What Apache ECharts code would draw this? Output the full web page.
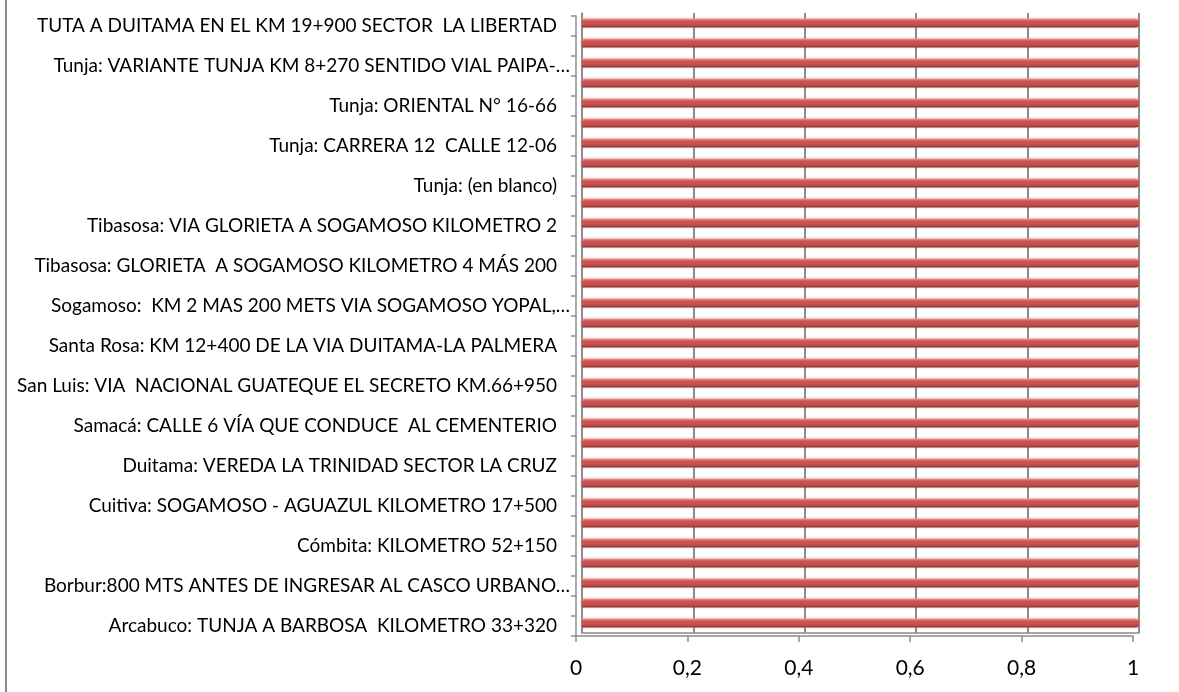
<!DOCTYPE html>
<html>
<head>
<meta charset="utf-8">
<script src="https://cdn.jsdelivr.net/npm/echarts@6/dist/echarts.min.js"></script>
<style>
html, body { margin: 0; padding: 0; background: #fff; }
#main { width: 1179px; height: 692px; }
#edge { position: absolute; left: 5px; top: 0; width: 2px; height: 692px; background: #8c8c8c; }
</style>
</head>
<body>
<div id="edge"></div>
<div id="main"></div>
<script>
// etiquetas visibles (una de cada dos categorias), de arriba hacia abajo
var labels = [
  'TUTA A DUITAMA EN EL KM 19+900 SECTOR  LA LIBERTAD',
  'Tunja: VARIANTE TUNJA KM 8+270 SENTIDO VIAL PAIPA-…',
  'Tunja: ORIENTAL N° 16-66',
  'Tunja: CARRERA 12  CALLE 12-06',
  'Tunja: (en blanco)',
  'Tibasosa: VIA GLORIETA A SOGAMOSO KILOMETRO 2',
  'Tibasosa: GLORIETA  A SOGAMOSO KILOMETRO 4 MÁS 200',
  'Sogamoso:  KM 2 MAS 200 METS VIA SOGAMOSO YOPAL,…',
  'Santa Rosa: KM 12+400 DE LA VIA DUITAMA-LA PALMERA',
  'San Luis: VIA  NACIONAL GUATEQUE EL SECRETO KM.66+950',
  'Samacá: CALLE 6 VÍA QUE CONDUCE  AL CEMENTERIO',
  'Duitama: VEREDA LA TRINIDAD SECTOR LA CRUZ',
  'Cuitiva: SOGAMOSO - AGUAZUL KILOMETRO 17+500',
  'Cómbita: KILOMETRO 52+150',
  'Borbur:800 MTS ANTES DE INGRESAR AL CASCO URBANO…',
  'Arcabuco: TUNJA A BARBOSA  KILOMETRO 33+320'
];
var values = [1, 1, 1, 1, 1, 1, 1, 1, 1, 1, 1, 1, 1, 1, 1, 1,
              1, 1, 1, 1, 1, 1, 1, 1, 1, 1, 1, 1, 1, 1, 1];
var xMin = 0, xMax = 1, xStep = 0.2;

// 31 categorias: las intermedias no tienen etiqueta visible
var categories = [];
labels.forEach(function (l, i) {
  categories.push(l);
  if (i < labels.length - 1) categories.push('');
});

var gray = '#8c8c8c';
var font = 'Lato';

var myChart = echarts.init(document.getElementById('main'));
myChart.setOption({
  animation: false,
  grid: [
    { left: 576, right: 46, top: 16, bottom: 56 },
    { left: 582, right: 40, top: 13, bottom: 59 }
  ],
  xAxis: [{
    gridIndex: 0,
    type: 'value',
    min: xMin, max: xMax, interval: xStep,
    axisLine: { show: true, lineStyle: { color: gray, width: 1.5 } },
    axisTick: { show: true, length: 6, lineStyle: { color: gray, width: 1.5 } },
    splitLine: { show: false },
    axisLabel: {
      color: '#000', fontSize: 21, fontFamily: font, margin: 22,
      formatter: function (v) { return String(v).replace('.', ','); }
    }
  }, {
    gridIndex: 1,
    type: 'value',
    min: xMin, max: xMax, interval: xStep,
    axisLine: { show: true, lineStyle: { color: gray, width: 1.5 } },
    axisTick: { show: false },
    axisLabel: { show: false },
    splitLine: { show: true, lineStyle: { color: gray, width: 2 } }
  }],
  yAxis: [{
    gridIndex: 0,
    type: 'category',
    inverse: true,
    data: categories,
    axisLine: { show: true, lineStyle: { color: gray, width: 1.5 } },
    axisTick: { show: true, length: 5, interval: 0, lineStyle: { color: gray, width: 1.5 } },
    axisLabel: {
      interval: 0, color: '#000', fontSize: 19, fontFamily: font, margin: 6,
      formatter: function (v) {
        if (!v) return '';
        // las etiquetas completas dejan un hueco antes del eje, las truncadas no
        return v.slice(-1) === '…' ? v : '{p|' + v + '}';
      },
      rich: { p: { fontSize: 19, fontFamily: font, color: '#000', padding: [0, 13, 0, 0] } }
    }
  }, {
    gridIndex: 1,
    type: 'category',
    inverse: true,
    data: categories,
    axisLine: { show: true, lineStyle: { color: gray, width: 1.5 } },
    axisTick: { show: false },
    axisLabel: { show: false }
  }],
  series: [{
    type: 'bar',
    xAxisIndex: 1,
    yAxisIndex: 1,
    data: values,
    barWidth: 9,
    itemStyle: {
      borderRadius: [0, 3, 3, 0],
      color: new echarts.graphic.LinearGradient(0, 0, 0, 1, [
        { offset: 0, color: '#e9a19e' },
        { offset: 0.3, color: '#d0524e' },
        { offset: 0.7, color: '#c0504d' },
        { offset: 1, color: '#8a3533' }
      ]),
      shadowColor: 'rgba(192,80,77,0.35)',
      shadowBlur: 3
    }
  }]
});
</script>
</body>
</html>
